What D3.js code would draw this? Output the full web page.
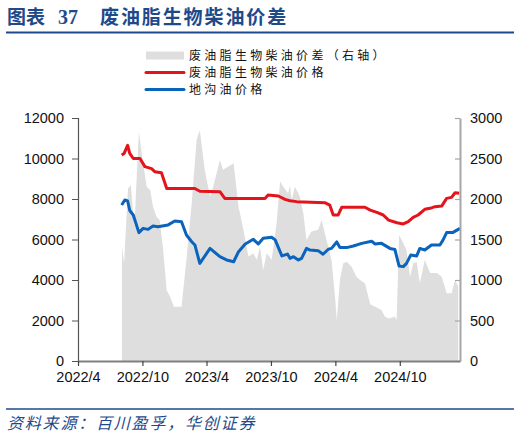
<!DOCTYPE html>
<html><head><meta charset="utf-8">
<script src="https://cdn.jsdelivr.net/npm/d3@7"></script>
<style>
body{margin:0;background:#fff;}
svg{display:block;}
</style></head>
<body>
<svg id="c" width="520" height="440"></svg>
<script>
// Biodiesel (waste oil) price, yuan/t
const biodieselDates = ["2022-08-03","2022-08-10","2022-08-20","2022-08-26","2022-09-05","2022-09-24","2022-10-08","2022-10-27","2022-11-05","2022-11-24","2022-12-09","2023-02-27","2023-03-13","2023-05-09","2023-05-23","2023-09-14","2023-09-23","2023-10-22","2023-11-10","2023-11-24","2023-12-13","2024-03-02","2024-03-16","2024-03-26","2024-04-09","2024-04-19","2024-06-24","2024-07-09","2024-07-28","2024-08-15","2024-08-30","2024-09-23","2024-10-11","2024-10-25","2024-11-08","2024-11-22","2024-12-11","2024-12-26","2025-01-09","2025-01-28","2025-02-11","2025-02-25","2025-03-07","2025-03-19"];
const biodieselValues = [10170,10250,10650,10250,10000,10000,9600,9500,9350,9300,8520,8520,8380,8360,8030,8030,8200,8150,7980,7915,7870,7820,7700,7210,7210,7590,7590,7450,7340,7210,6960,6830,6770,6880,7090,7210,7490,7540,7620,7650,8030,8080,8310,8280];

// Gutter oil price, yuan/t
const gutterDates = ["2022-08-03","2022-08-12","2022-08-20","2022-08-26","2022-09-05","2022-09-21","2022-10-03","2022-10-17","2022-10-31","2022-11-14","2022-12-13","2023-01-01","2023-01-20","2023-02-03","2023-02-18","2023-02-27","2023-03-13","2023-04-11","2023-05-09","2023-05-28","2023-06-17","2023-07-01","2023-07-20","2023-08-12","2023-08-26","2023-09-09","2023-10-03","2023-10-13","2023-11-01","2023-11-17","2023-11-24","2023-12-04","2023-12-18","2023-12-27","2024-01-10","2024-01-20","2024-02-12","2024-02-26","2024-03-12","2024-03-21","2024-04-05","2024-04-14","2024-05-03","2024-05-22","2024-06-15","2024-07-13","2024-07-23","2024-08-10","2024-09-03","2024-09-17","2024-09-29","2024-10-11","2024-10-20","2024-11-01","2024-11-18","2024-11-27","2024-12-11","2024-12-30","2025-01-23","2025-02-01","2025-02-11","2025-02-28","2025-03-21"];
const gutterValues = [7700,7950,7900,7430,7210,6340,6550,6500,6670,6630,6720,6910,6880,6220,5890,5730,4820,5560,5150,4990,4900,5400,5780,6010,5780,6060,6110,5980,5190,5280,5070,5150,4990,5070,5560,5480,5450,5270,5520,5560,5880,5600,5600,5680,5810,5910,5780,5810,5560,5510,4690,4660,4820,5230,5190,5560,5480,5730,5730,5980,6340,6340,6550];

// Spread (right axis), yuan/t
const spreadDates = ["2022-08-04","2022-08-10","2022-08-21","2022-08-29","2022-09-08","2022-09-21","2022-09-29","2022-10-13","2022-10-23","2022-10-31","2022-11-10","2022-11-19","2022-11-28","2022-12-09","2022-12-18","2022-12-30","2023-01-20","2023-02-03","2023-02-18","2023-03-04","2023-03-13","2023-03-27","2023-04-11","2023-04-20","2023-05-09","2023-05-18","2023-06-17","2023-07-01","2023-07-15","2023-07-29","2023-08-12","2023-08-22","2023-08-31","2023-09-09","2023-09-19","2023-10-03","2023-10-17","2023-10-27","2023-11-05","2023-11-19","2023-11-24","2023-11-29","2023-12-08","2023-12-22","2024-01-01","2024-01-10","2024-01-24","2024-02-12","2024-02-22","2024-03-02","2024-03-21","2024-03-31","2024-04-05","2024-04-14","2024-04-23","2024-05-03","2024-05-17","2024-05-31","2024-06-10","2024-06-24","2024-07-09","2024-07-23","2024-08-10","2024-08-20","2024-08-30","2024-09-17","2024-09-22","2024-09-29","2024-10-11","2024-10-20","2024-10-30","2024-11-08","2024-11-18","2024-11-27","2024-12-11","2024-12-26","2025-01-14","2025-01-28","2025-02-11","2025-02-25","2025-03-07","2025-03-16"];
const spreadValues = [1410,1205,2130,2170,1650,2830,2565,2150,2110,1905,1780,1740,1410,875,795,670,670,1250,1950,2730,2850,2360,2030,2150,2480,2360,2440,1905,1620,1290,1330,1250,1410,1125,1330,1250,1700,2215,2150,2070,2170,1990,2150,2030,1820,1495,1600,1620,1740,1580,1250,795,505,1000,1205,1225,1165,1040,1000,960,700,670,630,545,525,545,505,1555,1455,1370,1040,1205,1225,960,1250,1085,1085,1040,835,835,1000,920];

const xTickLabels = ["2022/4","2022/10","2023/4","2023/10","2024/4","2024/10"];
const leftTicks = [0,2000,4000,6000,8000,10000,12000];
const rightTicks = [0,500,1000,1500,2000,2500,3000];
const legendLabels = ["废油脂生物柴油价差（右轴）","废油脂生物柴油价格","地沟油价格"];

const parse = d3.timeParse("%Y-%m-%d");
const parseTick = d3.timeParse("%Y/%m");
const zip = (ds, vs) => ds.map((d,i)=>({date:parse(d), value:vs[i]}));
const biodiesel = zip(biodieselDates, biodieselValues);
const gutter = zip(gutterDates, gutterValues);
const spread = zip(spreadDates, spreadValues);

const svg = d3.select("#c");
const L = 78, R = 460, T = 118, B = 361;
const navy = "#1F4A8A";
const RED = "#E5141C", BLUE = "#0A63BD", GRAY = "#DEDEDE";

const x = d3.scaleTime().domain([parse("2022-04-01"), parse("2025-03-21")]).range([L, R]);
const yL = d3.scaleLinear().domain([0,12000]).range([B, T]);
const yR = d3.scaleLinear().domain([0,3000]).range([B, T]);

// Title
svg.append("text").attr("x",7).attr("y",24).attr("fill",navy)
  .attr("font-family","'Noto Sans CJK SC'").attr("font-weight","bold").attr("font-size",19)
  .text("图表");
svg.append("text").attr("x",58).attr("y",24).attr("fill",navy)
  .attr("font-family","'Liberation Serif'").attr("font-weight","bold").attr("font-size",20)
  .text("37");
svg.append("text").attr("x",100).attr("y",24).attr("fill",navy)
  .attr("font-family","'Noto Sans CJK SC'").attr("font-weight","bold").attr("font-size",19)
  .attr("letter-spacing",1.9).text("废油脂生物柴油价差");
svg.append("line").attr("x1",6).attr("x2",514).attr("y1",32.5).attr("y2",32.5)
  .attr("stroke",navy).attr("stroke-width",2);

// Area (spread)
svg.append("path").datum(spread)
  .attr("d", d3.area().x(d=>x(d.date)).y0(B).y1(d=>yR(d.value)))
  .attr("fill", GRAY);

// Lines
const line = (ys) => d3.line().x(d=>x(d.date)).y(d=>ys(d.value));
svg.append("path").datum(biodiesel).attr("d", line(yL)).attr("fill","none")
  .attr("stroke",RED).attr("stroke-width",3).attr("stroke-linejoin","round");
svg.append("path").datum(gutter).attr("d", line(yL)).attr("fill","none")
  .attr("stroke",BLUE).attr("stroke-width",3).attr("stroke-linejoin","round");

// Left axis
const gL = svg.append("g").attr("transform",`translate(${L},0)`)
  .call(d3.axisLeft(yL).tickValues(leftTicks).tickSize(6).tickPadding(8).tickFormat(d3.format("d")));
gL.select(".domain").attr("stroke","#555").attr("stroke-width",1.2);
gL.selectAll(".tick line").attr("stroke","#555");
gL.selectAll("text").attr("font-family","'Liberation Sans', Arial").attr("font-size",14.5).attr("fill","#111");

// Right axis
const gR = svg.append("g").attr("transform",`translate(${R},0)`)
  .call(d3.axisRight(yR).tickValues(rightTicks).tickSizeInner(-5).tickSizeOuter(0).tickPadding(10).tickFormat(d3.format("d")));
gR.select(".domain").attr("stroke","#A6A6A6").attr("stroke-width",2);
gR.selectAll(".tick line").attr("stroke","#A6A6A6").attr("stroke-width",1.2);
gR.selectAll("text").attr("font-family","'Liberation Sans', Arial").attr("font-size",14.5).attr("fill","#111");

// Bottom axis
const gB = svg.append("g").attr("transform",`translate(0,${B})`)
  .call(d3.axisBottom(x).tickValues(xTickLabels.map(parseTick)).tickSizeInner(5).tickSizeOuter(0).tickPadding(6)
    .tickFormat(d3.timeFormat("%Y/%-m")));
gB.select(".domain").attr("stroke","#808080").attr("stroke-width",2);
gB.selectAll(".tick line").attr("stroke","#444").attr("stroke-width",1.2);
gB.selectAll("text").attr("font-family","'Liberation Sans', Arial").attr("font-size",14.5).attr("fill","#111");

// Legend
const lg = svg.append("g");
const legendStyles = [{type:"rect",color:GRAY},{type:"line",color:RED},{type:"line",color:BLUE}];
legendLabels.forEach((lab,i)=>{
  const yy = 55.5 + i*17;
  const s = legendStyles[i];
  if (s.type==="rect") {
    lg.append("rect").attr("x",146).attr("y",yy-4).attr("width",38).attr("height",8).attr("fill",s.color);
  } else {
    lg.append("line").attr("x1",146).attr("x2",184).attr("y1",yy).attr("y2",yy)
      .attr("stroke",s.color).attr("stroke-width",3).attr("stroke-linecap","round");
  }
  lg.append("text").attr("x",189).attr("y",yy).attr("dy","0.36em").attr("font-family","'Noto Sans CJK SC'")
    .attr("font-size",12).attr("letter-spacing",3.3).attr("fill","#111").text(lab);
});

// Footer
svg.append("line").attr("x1",6).attr("x2",514).attr("y1",409).attr("y2",409)
  .attr("stroke",navy).attr("stroke-width",1.5);
svg.append("text").attr("x",7).attr("y",429).attr("fill",navy)
  .attr("font-family","'Noto Sans CJK SC'").attr("font-style","italic").attr("font-size",16)
  .attr("letter-spacing",1.8).text("资料来源：百川盈孚，华创证券");
</script>
</body></html>
